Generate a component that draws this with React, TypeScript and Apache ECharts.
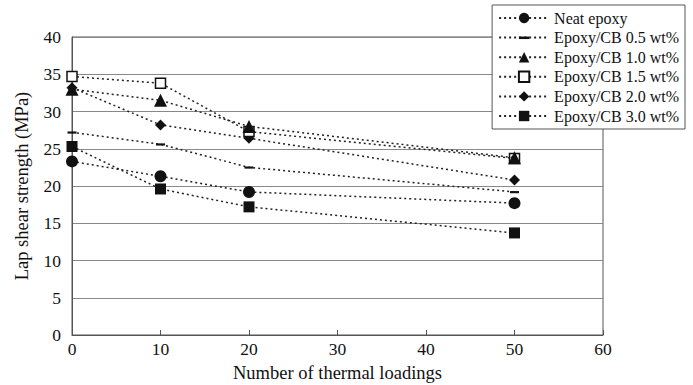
import React, { useEffect, useRef } from "react";
import * as echarts from "echarts";

const loadings = [0, 10, 20, 50];
const seriesNames = [
  "Neat epoxy",
  "Epoxy/CB 0.5 wt%",
  "Epoxy/CB 1.0 wt%",
  "Epoxy/CB 1.5 wt%",
  "Epoxy/CB 2.0 wt%",
  "Epoxy/CB 3.0 wt%",
];
const neat = [23.3, 21.3, 19.2, 17.7];
const cb05 = [27.2, 25.6, 22.5, 19.2];
const cb10 = [33.0, 31.5, 28.0, 23.8];
const cb15 = [34.7, 33.8, 27.3, 23.7];
const cb20 = [33.2, 28.2, 26.4, 20.8];
const cb30 = [25.3, 19.6, 17.2, 13.7];
const xTicks = [0, 10, 20, 30, 40, 50, 60];

const FONT = "'Liberation Serif', 'DejaVu Serif', serif";
const DASH = "path://M0,0M10,10M0,4h10v2.4h-10z";

export default function App() {
  const ref = useRef<HTMLDivElement>(null);
  useEffect(() => {
    const chart = echarts.init(ref.current!, undefined, { renderer: "svg" });
    const values = [neat, cb05, cb10, cb15, cb20, cb30];
    const symbols: any[] = ["circle", DASH, "triangle", "rect", "diamond", "rect"];
    const sizes: any[] = [12, 9, 13, 10, 11, 11];
    const series = values.map((vals, i) => ({
      name: seriesNames[i],
      type: "line",
      data: vals.map((v, j) => [loadings[j], v]),
      symbol: symbols[i],
      symbolSize: sizes[i],
      showSymbol: true,
      z: 10 - i,
      lineStyle: { color: "#222", width: 1.5, type: [2, 3] },
      itemStyle:
        i === 3
          ? { color: "#fff", borderColor: "#111", borderWidth: 1.5 }
          : { color: "#111", borderColor: "#111", borderWidth: 0 },
    }));
    chart.setOption({
      animation: false,
      backgroundColor: "#fff",
      textStyle: { fontFamily: FONT },
      grid: {
        left: 72,
        right: 90,
        top: 37,
        bottom: 50,
        containLabel: false,
        outerBoundsMode: "none",
        show: true,
        borderColor: "#555",
        borderWidth: 1,
      },
      legend: {
        right: 8,
        top: 5,
        orient: "vertical",
        itemGap: 3.6,
        itemWidth: 50,
        itemHeight: 13,
        backgroundColor: "#fff",
        borderColor: "#555",
        borderWidth: 1,
        padding: [5, 6, 5, 6],
        textStyle: { fontFamily: FONT, fontSize: 16, color: "#111" },
        data: seriesNames,
      },
      xAxis: {
        type: "value",
        min: 0,
        max: 60,
        interval: 10,
        name: "Number of thermal loadings",
        nameLocation: "middle",
        nameGap: 28,
        nameTextStyle: { fontFamily: FONT, fontSize: 18.5, color: "#111" },
        axisLine: { show: true, lineStyle: { color: "#555", width: 1 } },
        axisTick: { show: true, inside: true, length: 5, lineStyle: { color: "#555" } },
        axisLabel: {
          fontFamily: FONT,
          fontSize: 17.5,
          color: "#111",
          margin: 5,
          formatter: (v: number) => (xTicks.includes(v) ? String(v) : ""),
        },
        splitLine: { show: false },
      },
      yAxis: {
        type: "value",
        min: 0,
        max: 40,
        interval: 5,
        name: "Lap shear strength (MPa)",
        nameLocation: "middle",
        nameGap: 41,
        nameTextStyle: { fontFamily: FONT, fontSize: 18.5, color: "#111" },
        axisLine: { show: true, lineStyle: { color: "#555", width: 1 } },
        axisTick: { show: false },
        axisLabel: { fontFamily: FONT, fontSize: 17.5, color: "#111", margin: 11 },
        splitLine: { show: true, lineStyle: { color: "#888", width: 1 } },
      },
      series,
    });
    return () => chart.dispose();
  }, []);
  return (
    <div
      ref={ref}
      style={{ position: "fixed", left: 0, top: 0, width: 693, height: 385 }}
    />
  );
}
